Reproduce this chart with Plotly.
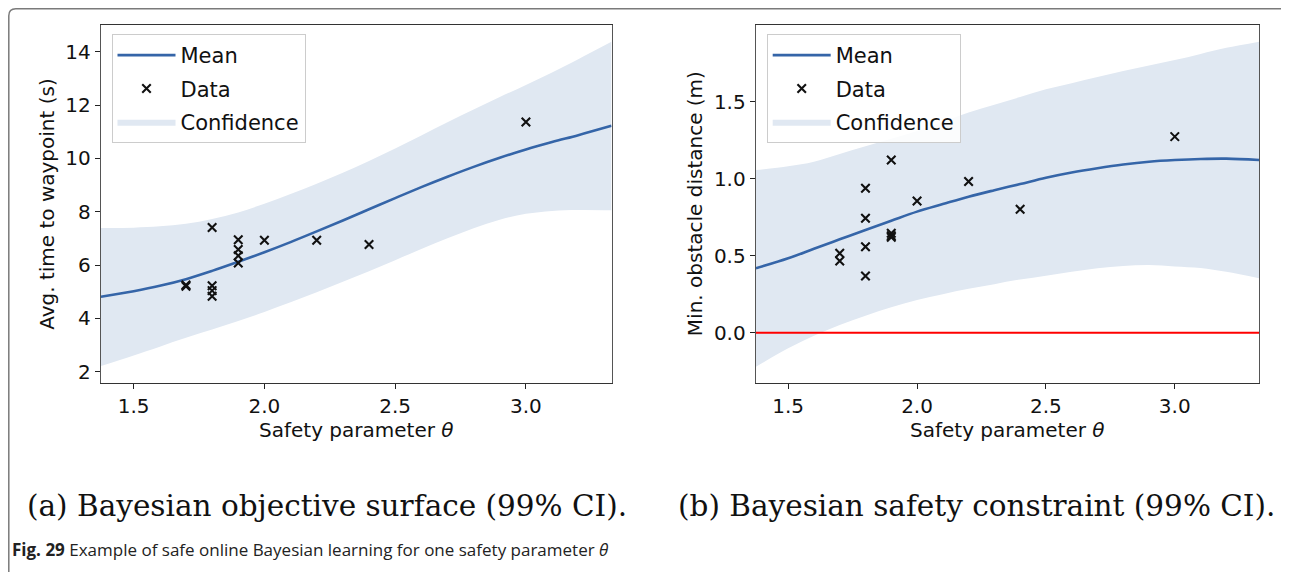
import plotly.graph_objects as go

# page is offset by the browser's default 8px body margin
OX, OY = 8, 8
W, H = 1289 - OX, 572 - OY

# ---- data ----
theta_grid = [1.375, 1.5, 1.6, 1.7, 1.8, 1.9, 2.0, 2.1, 2.2, 2.3, 2.4, 2.5,
              2.6, 2.7, 2.8, 2.9, 3.0, 3.1, 3.2, 3.327]

time_mean = [4.81, 5.02, 5.22, 5.47, 5.78, 6.12, 6.48, 6.86, 7.26, 7.67, 8.09, 8.51,
             8.92, 9.31, 9.68, 10.02, 10.33, 10.61, 10.87, 11.22]
time_upper = [7.39, 7.40, 7.45, 7.55, 7.73, 7.97, 8.30, 8.66, 9.05, 9.46, 9.90, 10.37,
              10.86, 11.35, 11.83, 12.30, 12.75, 13.22, 13.72, 14.37]
time_lower = [2.21, 2.61, 2.94, 3.27, 3.58, 3.90, 4.24, 4.60, 4.98, 5.37, 5.77, 6.18,
              6.60, 7.00, 7.38, 7.70, 7.92, 8.03, 8.06, 8.05]

dist_mean = [0.418, 0.483, 0.545, 0.606, 0.667, 0.727, 0.786, 0.835, 0.883, 0.925, 0.965, 1.006,
             1.040, 1.068, 1.092, 1.110, 1.121, 1.128, 1.130, 1.121]
dist_upper = [1.056, 1.08, 1.11, 1.16, 1.21, 1.26, 1.31, 1.37, 1.43, 1.48, 1.53, 1.58,
              1.62, 1.66, 1.70, 1.735, 1.77, 1.81, 1.85, 1.89]
dist_lower = [-0.221, -0.102, -0.02, 0.05, 0.11, 0.165, 0.212, 0.25, 0.285, 0.315, 0.345, 0.37,
              0.395, 0.418, 0.433, 0.44, 0.43, 0.42, 0.395, 0.353]

data_theta_a = [1.7, 1.7, 1.8, 1.8, 1.8, 1.8, 1.9, 1.9, 1.9, 1.9, 2.0, 2.2, 2.4, 3.0]
data_time = [5.25, 5.20, 7.41, 5.22, 5.04, 4.83, 6.95, 6.58, 6.35, 6.08, 6.93, 6.93, 6.77, 11.36]

data_theta_b = [1.7, 1.7, 1.8, 1.8, 1.8, 1.8, 1.9, 1.9, 1.9, 1.9, 2.0, 2.2, 2.4, 3.0]
data_dist = [0.515, 0.466, 0.938, 0.743, 0.558, 0.368, 1.121, 0.645, 0.630, 0.619, 0.855, 0.981, 0.801, 1.273]

limit_theta = [1.375, 3.327]
limit_dist = [0.0, 0.0]

x_range = [1.374, 3.328]
y_range_a = [1.565, 15.0]
y_range_b = [-0.329, 1.998]

x_ticks = [1.5, 2.0, 2.5, 3.0]
y_ticks_a = [2, 4, 6, 8, 10, 12, 14]
y_ticks_b = [0.0, 0.5, 1.0, 1.5]

caption_a = "(a) Bayesian objective surface (99% CI)."
caption_b = "(b) Bayesian safety constraint (99% CI)."
fig_caption = "<b>Fig. 29</b> Example of safe online Bayesian learning for one safety parameter <i>θ</i>"

# ---- styling ----
MEAN_COLOR = "#3565a8"
BAND_COLOR = "rgba(224,232,242,1)"
FONT = "DejaVu Sans"
FS = 20

def px(x):
    return (x - OX) / W

def py(y):
    return 1 - (y - OY) / H

fig = go.Figure()

def add_panel(xa, ya, legend, mean, upper, lower, dtheta, dvals):
    fig.add_trace(go.Scatter(x=theta_grid, y=lower, mode="lines", line=dict(width=0, shape="spline"),
                             showlegend=False, hoverinfo="skip", xaxis=xa, yaxis=ya))
    fig.add_trace(go.Scatter(x=theta_grid, y=upper, mode="lines", line=dict(width=0, shape="spline"),
                             fill="tonexty", fillcolor=BAND_COLOR, name="Confidence",
                             legend=legend, legendgroup=legend + "c", legendrank=3,
                             xaxis=xa, yaxis=ya))
    fig.add_trace(go.Scatter(x=theta_grid, y=mean, mode="lines",
                             line=dict(color=MEAN_COLOR, width=2.6, shape="spline"),
                             name="Mean", legend=legend, legendgroup=legend + "m", legendrank=1,
                             xaxis=xa, yaxis=ya))
    fig.add_trace(go.Scatter(x=dtheta, y=dvals, mode="markers",
                             marker=dict(symbol="x-thin", size=8.5, line=dict(width=2.1, color="#111")),
                             name="Data", legend=legend, legendgroup=legend + "d", legendrank=2,
                             xaxis=xa, yaxis=ya))

add_panel("x", "y", "legend", time_mean, time_upper, time_lower, data_theta_a, data_time)
add_panel("x2", "y2", "legend2", dist_mean, dist_upper, dist_lower, data_theta_b, data_dist)

fig.add_trace(go.Scatter(x=limit_theta, y=limit_dist, mode="lines", line=dict(color="#ff0000", width=2),
                         showlegend=False, xaxis="x2", yaxis="y2"))

axis_common = dict(showline=True, mirror=True, ticks="outside", ticklen=5, tickwidth=1.2,
                   tickcolor="#222", showgrid=False, zeroline=False,
                   tickfont=dict(family=FONT, size=FS, color="#111"))

left_x0, left_x1 = 100.7, 611.7
right_x0, right_x1 = 755.7, 1259.3
top_y, bot_y = 25, 383.3

legend_common = dict(xanchor="left", yanchor="top",
                     bgcolor="rgba(255,255,255,0.85)", bordercolor="#cccccc", borderwidth=1,
                     font=dict(family=FONT, size=21, color="#111"), itemwidth=58,
                     tracegroupgap=3, traceorder="grouped")

fig.update_layout(
    width=W, height=H,
    margin=dict(l=0, r=0, t=0, b=0),
    paper_bgcolor="white", plot_bgcolor="white",
    xaxis=dict(domain=[px(left_x0), px(left_x1)], range=x_range, tickvals=x_ticks,
               tickformat=".1f", linecolor="#333", anchor="y", **axis_common),
    yaxis=dict(domain=[py(bot_y), py(top_y)], range=y_range_a, tickvals=y_ticks_a,
               linecolor="#555", anchor="x", **axis_common),
    xaxis2=dict(domain=[px(right_x0), px(right_x1)], range=x_range, tickvals=x_ticks,
                tickformat=".1f", linecolor="#333", anchor="y2", **axis_common),
    yaxis2=dict(domain=[py(bot_y), py(top_y)], range=y_range_b, tickvals=y_ticks_b,
                tickformat=".1f", linecolor="#555", anchor="x2", **axis_common),
    legend=dict(x=px(111.5), y=py(34), **legend_common),
    legend2=dict(x=px(766.7), y=py(34), **legend_common),
    showlegend=True,
)

annots = [
    dict(text="Avg. time to waypoint (s)", x=px(46.7), y=py((top_y + bot_y) / 2), textangle=-90,
         font=dict(family=FONT, size=FS, color="#111")),
    dict(text="Safety parameter <i>θ</i>", x=px((left_x0 + left_x1) / 2), y=py(430),
         font=dict(family=FONT, size=FS, color="#111")),
    dict(text="Min. obstacle distance (m)", x=px(695), y=py((top_y + bot_y) / 2), textangle=-90,
         font=dict(family=FONT, size=FS, color="#111")),
    dict(text="Safety parameter <i>θ</i>", x=px((right_x0 + right_x1) / 2), y=py(430),
         font=dict(family=FONT, size=FS, color="#111")),
    dict(text=caption_a, x=px(25), y=py(506), xanchor="left",
         font=dict(family="DejaVu Serif", size=29.5, color="#111")),
    dict(text=caption_b, x=px(676), y=py(506), xanchor="left",
         font=dict(family="DejaVu Serif", size=29.5, color="#111")),
    dict(text=fig_caption, x=px(10), y=py(549), xanchor="left",
         font=dict(family="Open Sans", size=17, color="#222")),
]
for a in annots:
    a.setdefault("xanchor", "center")
    fig.add_annotation(xref="paper", yref="paper", showarrow=False, yanchor="middle", **a)

# outer frame (rounded top-left corner, continues past the right and bottom edges)
fx, fy, r = 8.8, 8.8, 7
frame_path = (f"M {px(fx)},{py(600)} L {px(fx)},{py(fy + r)} "
              f"Q {px(fx)},{py(fy)} {px(fx + r)},{py(fy)} L {px(1300)},{py(fy)}")
fig.add_shape(type="path", path=frame_path, xref="paper", yref="paper",
              line=dict(color="#7a7a7a", width=1.5), layer="below")

fig.write_html("out.html")
